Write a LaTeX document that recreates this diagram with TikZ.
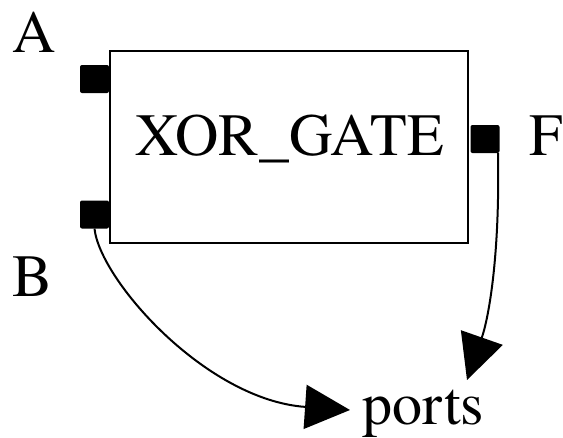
\documentclass[tikz,border=0pt]{standalone}
\usepackage{fontspec}
\setmainfont{texgyretermes-regular.otf}
\usetikzlibrary{arrows.meta}

\tikzset{
  big/.style={font=\fontsize{60}{72}\selectfont, inner sep=0pt, anchor=base},
  gatebox/.style={draw, line width=2pt, minimum width=358pt, minimum height=192pt, inner sep=0pt},
  portsq/.style={fill=black, rounded corners=2pt, minimum width=29pt, minimum height=28pt, inner sep=0pt},
  link/.style={line width=2pt, -{Triangle[length=45pt, width=44pt]}},
}

\begin{document}
\begin{tikzpicture}[x=1pt, y=-1pt]
  \useasboundingbox (0,0) rectangle (563,437);

  % the gate body and its three ports
  \node[gatebox] (gate) at (289,147) {};
  \node[big] (title) at (290,155) {XOR\_GATE};
  \node[portsq] (pA) at (94.5,79) {};
  \node[portsq] (pB) at (94.5,214.5) {};
  \node[portsq] (pF) at (485,139) {};

  % port names
  \node[big] (lA) at (34.5,52) {A};
  \node[big] (lB) at (32.5,296) {B};
  \node[big] (lF) at (546,155) {F};

  % the "ports" note and its two arrows
  \node[big] (ports) at (423.5,424) {ports};
  \coordinate (tipB) at (350,410);
  \coordinate (tipF) at (467,380);

  \draw[link] (pB.south) .. controls (100,280) and (206,400) .. (tipB);
  \draw[link] ([xshift=13pt]pF.south) .. controls (500,260) and (488,320) .. (tipF);
\end{tikzpicture}
\end{document}
